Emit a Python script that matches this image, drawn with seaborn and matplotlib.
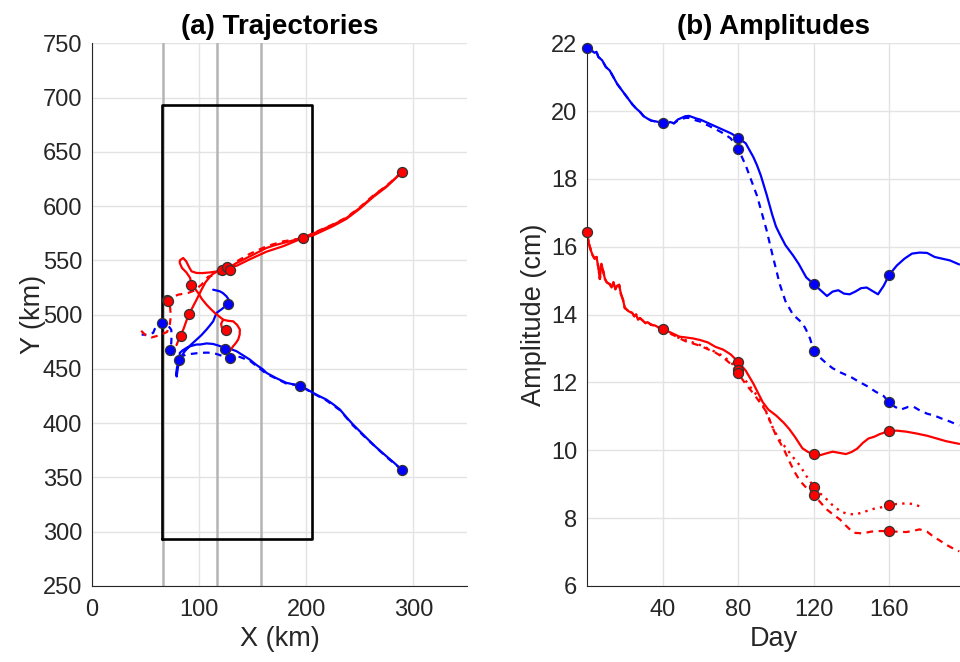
import matplotlib
matplotlib.use("Agg")
import matplotlib.pyplot as plt
import seaborn as sns
import pandas as pd
import numpy as np

# ---------------- data: (a) trajectories ----------------
red_solid_x = [289.2, 282, 274.6, 268, 262.2, 256, 249.8, 243.5, 237.4, 231, 224.9, 215, 206.2, 196.9, 188, 178.3, 170, 162.8, 155, 147.3, 141, 134.9, 127.1, 118, 110, 103, 97.6, 92.9, 90.5, 88, 85.1, 82, 81.9, 84, 88, 91.5, 92.8, 96, 99.1, 102.5, 106.9, 110.8, 114.6, 118.5, 122.4, 127, 131.7, 135.5, 138, 137.8, 136.4, 134, 131.7, 128.6]
red_solid_y = [631.3, 624.5, 618.1, 613.5, 608.9, 603.5, 598.2, 593.5, 589.0, 585.8, 582.8, 578.5, 574.5, 570.6, 568.5, 566.0, 563.8, 561.4, 557.5, 553.7, 550.5, 547.6, 543.0, 540, 538.9, 538.3, 538.4, 539.9, 544, 549, 552.2, 550, 547.6, 543, 539, 534, 527.6, 524, 520.0, 514.5, 509.2, 505.2, 501.6, 498.5, 495.4, 494.3, 493.9, 490.5, 486.3, 481.5, 477.0, 473.5, 470.9, 466.3]
red_curl_x = [122.4, 120.5, 121.2, 123.5, 125.5]
red_curl_y = [495.4, 491.5, 488.0, 486.0, 486.3]
red_dot_x = [289.2, 274.6, 262, 249.8, 237.4, 224.9, 206.2, 196.9, 178.3, 162.8, 147.3, 134.9, 126.4, 118, 112, 106, 102.2, 97.6, 93.5, 90.7, 88, 85.5, 82.6, 80.5, 78.9]
red_dot_y = [631.3, 617.5, 608, 597.5, 588.2, 581.5, 573, 570.6, 563, 558, 551, 545, 544, 540.5, 537, 530, 523.0, 513.8, 506, 500.7, 494, 487, 480.7, 476, 472]
red_dash_x = [289.2, 274.6, 262.2, 249.8, 237.4, 224.9, 206.2, 196.9, 178.3, 162.8, 147.3, 134.9, 128.6, 118, 108.4, 102.2, 95, 89.7, 80.4, 75, 69.6, 71.5, 73, 73.5, 72.5, 70, 63, 55.6, 50, 44.7]
red_dash_y = [631.3, 618.5, 609.5, 598.8, 589.5, 583.2, 575, 570.6, 567.5, 563, 556, 549, 541.1, 537.5, 535.0, 527.6, 522, 520.0, 518.4, 516, 513.8, 512.5, 506, 498, 490, 484, 481, 479, 481, 486.4]
blue_solid_x = [289.2, 282, 274.6, 265, 256, 250, 243.5, 237, 231.4, 225, 218.7, 212, 206.3, 200, 193.8, 187, 181.4, 172, 162.8, 159.6, 153, 147.3, 141, 134.9, 129, 124.2, 118, 113, 107, 101, 97.6, 92, 88.2, 84.5, 82, 81.4, 79.5, 78.5, 79, 80, 81.4, 86.6, 92, 97.6, 102, 106.9, 110, 113.1, 116.2, 121, 127.1, 127.5, 125.5, 122, 119.3, 113.1]
blue_solid_y = [357, 363.5, 369.7, 378, 386.6, 392.5, 398.9, 406, 412.6, 417.5, 421.8, 425, 428.0, 431.5, 434.7, 436, 437.2, 441.5, 446.4, 449.5, 454, 458.6, 462.5, 466.3, 468.5, 469.4, 471.5, 473, 473.5, 472.5, 472.5, 471, 469.4, 467, 464.8, 458.6, 452, 446, 443, 450, 458.6, 466.3, 472, 477.0, 481, 486.3, 490, 493.9, 501.6, 505, 510, 514, 516.9, 520, 521.5, 523.0]
blue_dash_x = [289.2, 274.6, 256, 243.5, 231.4, 218.7, 206.3, 193.8, 181.4, 162.8, 147.3, 138, 131.7, 128.6, 120, 113, 107, 100.7, 94, 88.2, 82, 77, 72.7, 74, 74.2, 74, 70, 65, 60.3, 57.1, 52, 46.3]
blue_dash_y = [357, 369, 386, 398, 412, 421, 427.5, 434.7, 436.5, 445.5, 457.5, 461, 461.7, 460.2, 462.5, 464.8, 465, 464.8, 464, 463.3, 461, 462, 467.8, 474, 480, 486, 491.5, 492.4, 490.9, 483.2, 481.5, 481.6]
red_mark_x = [289.2, 196.9, 121.1, 126.4, 128.6, 92.8, 90.7, 69.6, 125.5, 82.6, 71.1]
red_mark_y = [631.3, 570.6, 541.4, 543.9, 541.1, 527.6, 500.7, 513.2, 486.3, 480.7, 512.9]
blue_mark_x = [289.2, 193.8, 124.2, 128.6, 81.4, 72.7, 127.1, 65.0]
blue_mark_y = [357.0, 434.7, 468.8, 460.2, 458.6, 467.8, 510.0, 492.4]
gray_lines_x = [66.5, 116.5, 158.0]
box_x = [65, 205, 205, 65, 65]
box_y = [293, 293, 693, 693, 293]

# ---------------- data: (b) amplitudes ----------------
bs_day = [0, 2, 4, 5, 6, 8, 10, 12, 14, 16, 18, 20, 22, 24, 26, 28, 30, 32, 34, 36, 38, 40, 42, 44, 46, 48, 50, 52, 54, 56, 58, 60, 64, 68, 72, 76, 80, 84, 88, 90, 92, 95, 98, 100, 102, 105, 109, 112, 116, 120, 124, 127, 130, 133, 136, 139, 142, 145, 148, 151, 154, 157, 160, 164, 168, 172, 176, 180, 184, 188, 192, 197]
bs_amp = [21.85, 21.8, 21.72, 21.75, 21.6, 21.5, 21.3, 21.2, 21.0, 20.8, 20.65, 20.5, 20.35, 20.2, 20.08, 19.98, 19.85, 19.78, 19.72, 19.7, 19.68, 19.65, 19.62, 19.68, 19.64, 19.75, 19.8, 19.85, 19.86, 19.82, 19.78, 19.75, 19.65, 19.55, 19.45, 19.35, 19.22, 19.05, 18.65, 18.4, 18.1, 17.55, 16.95, 16.6, 16.37, 16.05, 15.75, 15.5, 15.1, 14.9, 14.7, 14.55, 14.68, 14.72, 14.62, 14.6, 14.68, 14.78, 14.8, 14.7, 14.6, 14.85, 15.18, 15.45, 15.65, 15.8, 15.83, 15.82, 15.7, 15.65, 15.6, 15.48]
bd_day = [0, 2, 4, 5, 6, 8, 10, 12, 14, 16, 18, 20, 22, 24, 26, 28, 30, 32, 34, 36, 38, 40, 42, 44, 46, 48, 50, 52, 54, 56, 58, 60, 64, 68, 72, 76, 80, 84, 88, 90, 92, 95, 98, 102, 105, 109, 112, 114, 116, 118, 120, 124, 127, 130, 134, 140, 144, 148, 153, 157, 160, 163, 166, 170, 173, 176, 180, 184, 188, 192, 197]
bd_amp = [21.85, 21.8, 21.72, 21.75, 21.6, 21.5, 21.3, 21.2, 21.0, 20.8, 20.65, 20.5, 20.35, 20.2, 20.08, 19.98, 19.85, 19.78, 19.72, 19.7, 19.68, 19.65, 19.62, 19.68, 19.64, 19.72, 19.76, 19.8, 19.8, 19.76, 19.72, 19.69, 19.58, 19.47, 19.35, 19.2, 18.89, 18.4, 17.8, 17.5, 17.1, 16.5, 15.8, 14.9, 14.4, 14.0, 13.85, 13.75, 13.55, 13.3, 12.94, 12.7, 12.55, 12.42, 12.3, 12.15, 12.02, 11.9, 11.72, 11.6, 11.41, 11.28, 11.2, 11.28, 11.28, 11.18, 11.08, 11.02, 10.93, 10.85, 10.73]
rs_day = [0, 1, 2, 3, 4, 5, 6, 6.8, 7.6, 8.5, 9.5, 10.5, 12, 13, 14, 15, 16, 17, 18, 19, 20, 22, 24, 25, 26, 27, 28, 30, 31, 32, 34, 36, 38, 40, 44, 49, 52, 56, 60, 64, 68, 72, 76, 80, 84, 88, 90, 93, 96, 100, 104, 107, 110, 114, 117, 120, 123, 126, 130, 134, 137, 140, 143, 146, 149, 152, 155, 160, 164, 169, 174, 180, 185, 190, 197]
rs_amp = [16.43, 16.1, 15.9, 15.75, 15.65, 15.7, 15.4, 15.05, 15.5, 15.3, 15.05, 14.95, 14.9, 14.8, 14.95, 14.75, 14.85, 14.88, 14.6, 14.45, 14.2, 14.1, 14.05, 13.95, 14.0, 13.85, 13.9, 13.8, 13.75, 13.78, 13.7, 13.68, 13.62, 13.57, 13.48, 13.35, 13.33, 13.3, 13.25, 13.18, 13.05, 12.97, 12.83, 12.61, 12.35, 11.97, 11.75, 11.42, 11.2, 11.03, 10.82, 10.63, 10.4, 10.06, 9.95, 9.88, 9.85, 9.9, 9.96, 9.92, 9.89, 9.95, 10.05, 10.22, 10.35, 10.4, 10.48, 10.57, 10.58, 10.55, 10.5, 10.43, 10.35, 10.27, 10.19]
rt_day = [0, 1, 2, 3, 4, 5, 6, 6.8, 7.6, 8.5, 9.5, 10.5, 12, 13, 14, 15, 16, 17, 18, 19, 20, 22, 24, 25, 26, 27, 28, 30, 31, 32, 34, 36, 38, 40, 44, 48, 52, 56, 60, 64, 68, 72, 76, 80, 84, 88, 91.5, 95, 98.6, 102, 105.7, 109, 112.7, 116, 120, 123, 126.8, 130, 133.9, 137, 141, 144, 148, 152, 155, 160, 164, 167, 170, 172.6, 175, 177]
rt_amp = [16.43, 16.1, 15.9, 15.75, 15.65, 15.7, 15.4, 15.05, 15.5, 15.3, 15.05, 14.95, 14.9, 14.8, 14.95, 14.75, 14.85, 14.88, 14.6, 14.45, 14.2, 14.1, 14.05, 13.95, 14.0, 13.85, 13.9, 13.8, 13.75, 13.78, 13.7, 13.68, 13.62, 13.57, 13.45, 13.33, 13.25, 13.18, 13.1, 13.0, 12.9, 12.78, 12.6, 12.36, 12.05, 11.75, 11.52, 11.1, 10.63, 10.3, 10.04, 9.8, 9.55, 9.25, 8.93, 8.75, 8.56, 8.38, 8.21, 8.14, 8.11, 8.14, 8.21, 8.28, 8.31, 8.38, 8.42, 8.43, 8.44, 8.41, 8.37, 8.33]
rd_day = [0, 1, 2, 3, 4, 5, 6, 6.8, 7.6, 8.5, 9.5, 10.5, 12, 13, 14, 15, 16, 17, 18, 19, 20, 22, 24, 25, 26, 27, 28, 30, 31, 32, 34, 36, 38, 40, 44, 48, 52, 56, 60, 64, 68, 72, 76, 80, 84, 88, 91, 95, 98, 100, 104, 107.4, 110, 112.7, 116, 120, 123, 126.8, 130, 133.9, 137, 141, 146, 150, 153.3, 157, 160, 165, 169, 173, 176, 180, 183, 187, 190, 194, 197]
rd_amp = [16.43, 16.1, 15.9, 15.75, 15.65, 15.7, 15.4, 15.05, 15.5, 15.3, 15.05, 14.95, 14.9, 14.8, 14.95, 14.75, 14.85, 14.88, 14.6, 14.45, 14.2, 14.1, 14.05, 13.95, 14.0, 13.85, 13.9, 13.8, 13.75, 13.78, 13.7, 13.68, 13.62, 13.57, 13.45, 13.33, 13.22, 13.15, 13.08, 12.98, 12.88, 12.74, 12.55, 12.27, 11.95, 11.68, 11.45, 11.13, 10.7, 10.44, 10.05, 9.64, 9.35, 9.10, 8.9, 8.69, 8.5, 8.26, 8.12, 7.96, 7.78, 7.57, 7.55, 7.6, 7.62, 7.62, 7.61, 7.6, 7.59, 7.63, 7.67, 7.6, 7.47, 7.33, 7.22, 7.1, 7.02]
amp_blue_mark_day = [0, 40, 80, 80, 120, 120, 160, 160]
amp_blue_mark_val = [21.85, 19.65, 19.22, 18.89, 14.9, 12.94, 15.18, 11.41]
amp_red_mark_day = [0, 40, 80, 80, 80, 120, 120, 120, 160, 160, 160]
amp_red_mark_val = [16.43, 13.57, 12.61, 12.36, 12.27, 9.88, 8.93, 8.69, 10.57, 8.38, 7.61]

x_ticks_a = [0, 100, 200, 300]
y_ticks_a = [250, 300, 350, 400, 450, 500, 550, 600, 650, 700, 750]
x_ticks_b = [40, 80, 120, 160]
y_ticks_b = [6, 8, 10, 12, 14, 16, 18, 20, 22]

# ---------------- style ----------------
sns.set_theme(style="white")
plt.rcParams['font.family'] = ['Liberation Sans', 'DejaVu Sans']
plt.rcParams['axes.unicode_minus'] = False

BLUE = '#0000ff'
RED = '#ff0000'
TXT = '#262626'
SPINE = '#262626'
GRID = '#e3e3e3'
MS = 52

fig = plt.figure(figsize=(9.6, 6.62), dpi=100)
axa = fig.add_axes([92/960, 76/662, 375/960, 542.7/662])
axb = fig.add_axes([587/960, 76/662, 373/960, 542.7/662])

def style_axes(ax):
    for s in ['top', 'right']:
        ax.spines[s].set_visible(False)
    for s in ['left', 'bottom']:
        ax.spines[s].set_color(SPINE)
        ax.spines[s].set_linewidth(0.8)
    ax.grid(True, color=GRID, linewidth=1.0)
    ax.set_axisbelow(True)
    ax.tick_params(direction='in', length=5, width=0.8, colors=SPINE,
                   labelsize=17, labelcolor=TXT)
    ax.tick_params(axis='x', pad=9)
    ax.tick_params(axis='y', pad=7)

def traj(ax, xs, ys, color, ls, lw=1.6):
    df = pd.DataFrame({'x': xs, 'y': ys})
    sns.lineplot(data=df, x='x', y='y', sort=False, estimator=None, ax=ax,
                 color=color, linestyle=ls, linewidth=lw)

# ---- panel (a)
for gx in gray_lines_x:
    axa.axvline(gx, color='#b4b4b4', linewidth=1.8, zorder=1)
traj(axa, box_x, box_y, 'black', '-', lw=1.9)
traj(axa, blue_dash_x, blue_dash_y, BLUE, (0, (3, 2.5)))
traj(axa, blue_solid_x, blue_solid_y, BLUE, '-')
traj(axa, red_dash_x, red_dash_y, RED, (0, (3, 2.5)))
traj(axa, red_dot_x, red_dot_y, RED, '-')
traj(axa, red_solid_x, red_solid_y, RED, '-')
traj(axa, red_curl_x, red_curl_y, RED, '-')
sns.scatterplot(x=blue_mark_x, y=blue_mark_y, ax=axa, color=BLUE, s=MS,
                edgecolor='#333333', linewidth=0.9, zorder=5)
sns.scatterplot(x=red_mark_x, y=red_mark_y, ax=axa, color=RED, s=MS,
                edgecolor='#333333', linewidth=0.9, zorder=5)
axa.set_xlim(0, 350)
axa.set_ylim(250, 750)
axa.set_xticks(x_ticks_a)
axa.set_yticks(y_ticks_a)
style_axes(axa)
axa.set_xlabel('X (km)', fontsize=19.5, color=TXT, labelpad=4)
axa.set_ylabel('Y (km)', fontsize=19.5, color=TXT, labelpad=-2)
axa.set_title('(a) Trajectories', fontsize=20, fontweight='bold', color='black', pad=7)

# ---- panel (b)
sns.lineplot(x=bd_day, y=bd_amp, ax=axb, color=BLUE, linestyle=(0, (3, 2.5)), linewidth=1.6)
sns.lineplot(x=bs_day, y=bs_amp, ax=axb, color=BLUE, linestyle='-', linewidth=1.6)
sns.lineplot(x=rd_day, y=rd_amp, ax=axb, color=RED, linestyle=(0, (3, 2.5)), linewidth=1.6)
sns.lineplot(x=rt_day, y=rt_amp, ax=axb, color=RED, linestyle=(0, (1, 2.2)), linewidth=1.7)
sns.lineplot(x=rs_day, y=rs_amp, ax=axb, color=RED, linestyle='-', linewidth=1.6)
sns.scatterplot(x=amp_blue_mark_day, y=amp_blue_mark_val, ax=axb, color=BLUE, s=MS,
                edgecolor='#333333', linewidth=0.9, zorder=5, clip_on=False)
sns.scatterplot(x=amp_red_mark_day, y=amp_red_mark_val, ax=axb, color=RED, s=MS,
                edgecolor='#333333', linewidth=0.9, zorder=5, clip_on=False)
axb.set_xlim(0, 197.4)
axb.set_ylim(6, 22)
axb.set_xticks(x_ticks_b)
axb.set_yticks(y_ticks_b)
style_axes(axb)
axb.set_xlabel('Day', fontsize=19.5, color=TXT, labelpad=4)
axb.set_ylabel('Amplitude (cm)', fontsize=19.5, color=TXT, labelpad=3)
axb.set_title('(b) Amplitudes', fontsize=20, fontweight='bold', color='black', pad=7)

fig.savefig('out.png', dpi=100)
